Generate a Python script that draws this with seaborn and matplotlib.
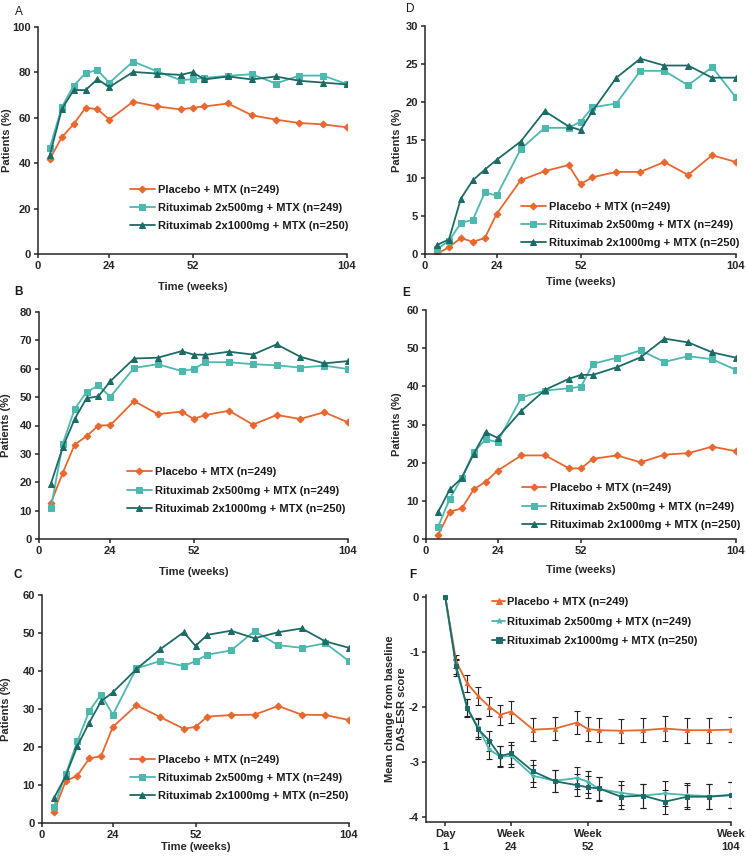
import numpy as np
import pandas as pd
import seaborn as sns
import matplotlib.pyplot as plt

# weeks of assessment
weeks = [4, 8, 12, 16, 20, 24, 32, 40, 48, 52, 56, 64, 72, 80, 88, 96, 104]
weeks_f = [0] + weeks

groups = ["Placebo + MTX (n=249)",
          "Rituximab 2x500mg + MTX (n=249)",
          "Rituximab 2x1000mg + MTX (n=250)"]

# panel A
a_pbo = [41.9, 51.4, 57.2, 64.4, 63.8, 59.2, 67.1, 65.0, 63.7, 64.4, 65.0, 66.3, 61.1, 59.2, 57.7, 57.1, 55.8]
a_500 = [46.9, 64.6, 74.2, 79.6, 81.1, 75.4, 84.8, 80.5, 76.6, 77.0, 77.6, 78.5, 79.2, 75.1, 78.6, 78.6, 74.8]
a_1000 = [43.6, 63.8, 72.2, 72.2, 77.0, 73.5, 80.2, 79.5, 78.9, 80.1, 76.9, 78.2, 76.9, 78.2, 76.3, 75.5, 74.7]

# panel B
b_pbo = [12.7, 23.3, 33.3, 36.2, 40.0, 40.1, 48.6, 44.0, 44.9, 42.3, 43.7, 45.2, 40.3, 43.7, 42.3, 44.7, 41.1]
b_500 = [10.8, 33.6, 45.8, 51.8, 54.1, 50.1, 60.3, 61.6, 59.2, 59.9, 62.3, 62.3, 61.6, 61.2, 60.4, 61.1, 59.9]
b_1000 = [19.5, 32.3, 42.3, 49.6, 50.3, 55.6, 63.6, 63.9, 66.2, 65.0, 64.9, 66.0, 65.0, 68.6, 64.2, 61.9, 62.7]

# panel C
c_pbo = [2.9, 11.0, 12.5, 17.0, 17.6, 25.3, 31.0, 27.9, 24.8, 25.3, 28.0, 28.4, 28.5, 30.8, 28.5, 28.4, 27.1]
c_500 = [4.2, 12.8, 21.5, 29.5, 33.8, 28.5, 40.7, 42.6, 41.3, 42.6, 44.3, 45.4, 50.5, 46.8, 46.1, 47.3, 42.6]
c_1000 = [6.5, 12.3, 20.3, 26.4, 32.0, 34.4, 40.5, 45.7, 50.2, 46.6, 49.5, 50.6, 48.6, 50.2, 51.2, 47.8, 46.1]

# panel D
d_pbo = [0.0, 0.9, 2.1, 1.6, 2.1, 5.3, 9.7, 10.9, 11.7, 9.2, 10.1, 10.8, 10.8, 12.1, 10.4, 13.0, 12.1]
d_500 = [0.66, 1.7, 4.1, 4.5, 8.1, 7.7, 13.8, 16.6, 16.6, 17.4, 19.3, 19.8, 24.1, 24.1, 22.2, 24.6, 20.6]
d_1000 = [1.2, 1.9, 7.3, 9.7, 11.1, 12.4, 14.8, 18.8, 16.8, 16.3, 18.8, 23.2, 25.7, 24.8, 24.8, 23.2, 23.2]

# panel E
e_pbo = [1.0, 7.2, 8.0, 13.0, 15.0, 17.9, 21.9, 21.9, 18.5, 18.5, 21.0, 21.9, 20.1, 22.1, 22.5, 24.2, 23.0]
e_500 = [3.1, 10.6, 16.0, 22.7, 26.1, 25.4, 37.1, 38.9, 39.5, 39.9, 45.9, 47.5, 49.4, 46.4, 47.9, 47.1, 44.3]
e_1000 = [7.0, 13.0, 16.0, 22.3, 28.0, 26.5, 33.6, 39.1, 42.0, 43.0, 43.0, 45.0, 47.6, 52.5, 51.5, 48.9, 47.5]

# panel F (DAS28-ESR change, with error bars)
f_pbo = [0.0, -1.18, -1.58, -1.81, -2.0, -2.15, -2.09, -2.42, -2.4, -2.29, -2.41, -2.43, -2.44, -2.43, -2.40, -2.43, -2.43, -2.42]
f_500 = [0.0, -1.30, -2.03, -2.38, -2.78, -2.91, -2.90, -3.26, -3.35, -3.30, -3.37, -3.50, -3.57, -3.62, -3.58, -3.61, -3.63, -3.61]
f_1000 = [0.0, -1.27, -2.02, -2.41, -2.62, -2.90, -2.85, -3.18, -3.36, -3.43, -3.47, -3.49, -3.64, -3.62, -3.73, -3.64, -3.64, -3.61]
f_pbo_err = [0, 0.12, 0.15, 0.17, 0.17, 0.18, 0.2, 0.21, 0.21, 0.21, 0.22, 0.22, 0.22, 0.22, 0.22, 0.23, 0.23, 0.23]
f_500_err = [0, 0.14, 0.16, 0.18, 0.18, 0.19, 0.2, 0.2, 0.2, 0.2, 0.2, 0.21, 0.22, 0.22, 0.22, 0.22, 0.23, 0.23]
f_1000_err = [0, 0.14, 0.16, 0.18, 0.18, 0.19, 0.2, 0.2, 0.2, 0.2, 0.2, 0.21, 0.22, 0.22, 0.22, 0.22, 0.23, 0.23]

orange = "#E8672E"
light = "#4DB8AE"
dark = "#1D6B66"
colors = [orange, light, dark]
markers = ["D", "s", "^"]
msizes = [3.5, 4.5, 5]

sns.set_style("ticks")
plt.rcParams["font.family"] = ["Liberation Sans", "DejaVu Sans"]
plt.rcParams["axes.linewidth"] = 1.1
plt.rcParams["xtick.major.width"] = 1.1
plt.rcParams["ytick.major.width"] = 1.1
plt.rcParams["xtick.major.size"] = 3
plt.rcParams["ytick.major.size"] = 3
plt.rcParams["text.color"] = "#1a1a1a"

fig = plt.figure(figsize=(7.46, 8.56), dpi=100)
W, H = 746, 856
FS = 8.0


def add_ax(left, top, right, bottom):
    return fig.add_axes([left / W, 1 - bottom / H, (right - left) / W, (bottom - top) / H])


# letter, axes box (px), ymax, ystep, series, legend anchor, letter pos, ylabel x, xlabel y
panels = [
    ("A", (38, 27, 347, 254), 100, 20, (a_pbo, a_500, a_1000), (0.298, 0.100), (15, 12), -0.084, -0.123),
    ("B", (39, 312, 348, 539), 80, 10, (b_pbo, b_500, b_1000), (0.285, 0.110), (14, 292), -0.090, -0.123),
    ("C", (42, 595, 349, 823), 60, 10, (c_pbo, c_500, c_1000), (0.287, 0.095), (14, 575), -0.100, -0.083),
    ("D", (425, 26, 736, 254), 30, 5, (d_pbo, d_500, d_1000), (0.309, 0.025), (406, 9), -0.074, -0.100),
    ("E", (426, 310, 736, 539), 60, 10, (e_pbo, e_500, e_1000), (0.309, 0.040), (402, 293), -0.077, -0.114),
]

tick_font = dict(fontsize=FS, fontweight="bold")

for letter, box, ymax, ystep, series, leg_xy, lab_xy, ylab_x, xlab_y in panels:
    ax = add_ax(*box)
    for vals, name, col, mk, ms in zip(series, groups, colors, markers, msizes):
        df = pd.DataFrame({"week": weeks, "value": vals})
        sns.lineplot(data=df, x="week", y="value", color=col, marker=mk, markersize=ms,
                     markeredgecolor=col, linewidth=1.3, label=name, ax=ax)
    ax.set_xlim(0, 104)
    ax.set_ylim(0, ymax)
    ax.set_xticks([0, 24, 52, 104])
    ax.set_yticks(np.arange(0, ymax + 1, ystep))
    ax.set_xticklabels(["0", "24", "52", "104"], **tick_font)
    ax.set_yticklabels([str(int(v)) for v in np.arange(0, ymax + 1, ystep)], **tick_font)
    ax.tick_params(pad=2)
    ax.set_xlabel("Time (weeks)", fontsize=FS, fontweight="bold")
    ax.set_ylabel("Patients (%)", fontsize=FS, fontweight="bold")
    ax.yaxis.set_label_coords(ylab_x, 0.5)
    ax.xaxis.set_label_coords(0.5, xlab_y)
    sns.despine(ax=ax)
    leg = ax.legend(loc="lower left", bbox_to_anchor=leg_xy, frameon=False, borderpad=0,
                    borderaxespad=0, handlelength=2.2, handletextpad=0.3, labelspacing=0.75,
                    prop=dict(size=FS, weight="bold"))
    fig.text(lab_xy[0] / W, 1 - lab_xy[1] / H, letter, fontsize=8.5,
             fontweight="bold" if letter not in ("A", "D") else "normal", va="center", ha="left")

# panel F
ax = add_ax(426, 595, 731, 822)
f_series = [(f_pbo, f_pbo_err, "^"), (f_500, f_500_err, "*"), (f_1000, f_1000_err, "s")]
for (vals, err, mk), name, col in zip(f_series, groups, colors):
    df = pd.DataFrame({"week": weeks_f, "value": vals})
    ax.errorbar(weeks_f[1:], vals[1:], yerr=err[1:], fmt="none", ecolor="#222222",
                elinewidth=0.8, capsize=2.5, capthick=0.8, zorder=1)
    sns.lineplot(data=df, x="week", y="value", color=col, marker=mk, markersize=3,
                 markeredgecolor=col, linewidth=1.3, label=name, ax=ax, zorder=3)
ax.set_xlim(-7, 104)
ax.set_ylim(-4.1, 0.03)
ax.set_xticks([0, 24, 52, 104])
ax.set_xticklabels(["Day\n1", "Week\n24", "Week\n52", "Week\n104"], fontsize=FS,
                   fontweight="bold", linespacing=1.4)
ax.set_yticks([0, -1, -2, -3, -4])
ax.set_yticklabels(["0", "-1", "-2", "-3", "-4"], **tick_font)
ax.tick_params(pad=2)
ax.set_xlabel("")
ax.set_ylabel("Mean change from baseline\nDAS-ESR score", fontsize=FS, fontweight="bold")
ax.yaxis.set_label_coords(-0.062, 0.5)
sns.despine(ax=ax)
leg = ax.legend(loc="upper left", bbox_to_anchor=(0.216, 0.99), frameon=False, borderpad=0,
                borderaxespad=0, handlelength=1.2, handletextpad=0.2, labelspacing=0.85,
                prop=dict(size=FS, weight="bold"), markerscale=1.4)
fig.text(409 / W, 1 - 575 / H, "F", fontsize=8.5, fontweight="bold", va="center", ha="left")

fig.savefig("out.png", dpi=100)
